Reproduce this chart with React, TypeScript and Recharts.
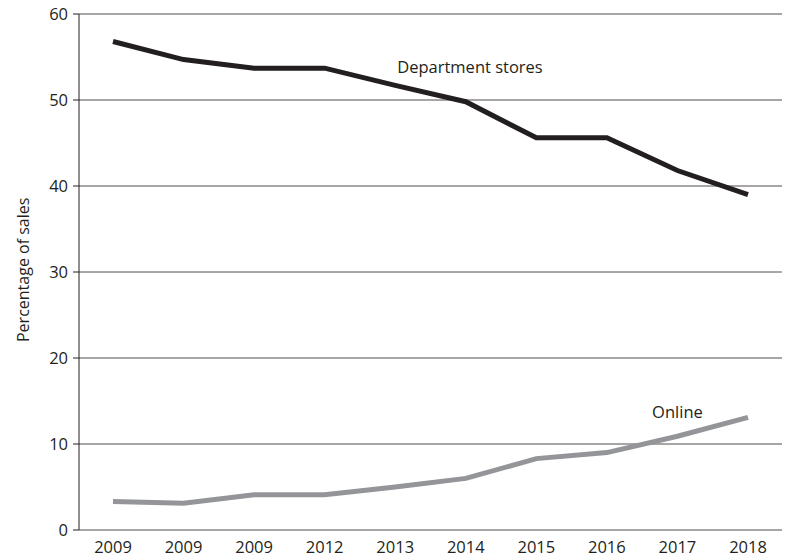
import { CartesianGrid, LabelList, Line, LineChart, XAxis, YAxis } from "recharts";

const YEARS = ["2009", "2009", "2009", "2012", "2013", "2014", "2015", "2016", "2017", "2018"];
const DEPARTMENT_STORES = [56.8, 54.7, 53.7, 53.7, 51.7, 49.8, 45.6, 45.6, 41.8, 39.0];
const ONLINE = [3.3, 3.1, 4.1, 4.1, 5.0, 6.0, 8.3, 9.0, 10.9, 13.1];
const Y_TICKS = [0, 10, 20, 30, 40, 50, 60];

const FONT = "'Open Sans', 'Noto Sans', sans-serif";
const INK = "#231f20";

const data = YEARS.map((year, i) => ({
  year,
  dept: DEPARTMENT_STORES[i],
  online: ONLINE[i],
}));

// draws a series name next to one chosen point of its line
function seriesLabel(text: string, atIndex: number, dx: number, dy: number, anchor: "start" | "middle") {
  return (props: any) => {
    if (props.index !== atIndex) return null;
    return (
      <text
        x={Number(props.x) + dx}
        y={Number(props.y) + dy}
        textAnchor={anchor}
        fontFamily={FONT}
        fontSize={16.5}
        fill={INK}
      >
        {text}
      </text>
    );
  };
}

export default function App() {
  return (
    <div style={{ position: "absolute", left: 0, top: 0, background: "#fff" }}>
      <LineChart width={803} height={557} data={data} margin={{ top: 14, right: 21, bottom: 0, left: 0 }}>
        <CartesianGrid vertical={false} stroke={INK} strokeWidth={0.8} />
        <XAxis
          dataKey="year"
          axisLine={false}
          tickLine={false}
          height={27}
          tickMargin={5}
          interval={0}
          padding={{ left: 34, right: 34 }}
          tick={{ fill: INK, fontSize: 16.5, fontFamily: FONT }}
        />
        <YAxis
          domain={[0, 60]}
          ticks={Y_TICKS}
          width={79}
          tickSize={6}
          tickMargin={5}
          stroke={INK}
          tick={{ fill: INK, fontSize: 16.5, fontFamily: FONT }}
          label={{
            value: "Percentage of sales",
            angle: -90,
            position: "insideLeft",
            dx: 18,
            dy: 70,
            style: { fill: INK, fontSize: 16, fontFamily: FONT },
          }}
        />
        <Line
          dataKey="dept"
          stroke={INK}
          strokeWidth={5}
          dot={false}
          type="linear"
          isAnimationActive={false}
        >
          <LabelList dataKey="dept" content={seriesLabel("Department stores", 4, 2, -12, "start")} />
        </Line>
        <Line
          dataKey="online"
          stroke="#939598"
          strokeWidth={5}
          dot={false}
          type="linear"
          isAnimationActive={false}
        >
          <LabelList dataKey="online" content={seriesLabel("Online", 8, 0, -18, "middle")} />
        </Line>
      </LineChart>
    </div>
  );
}
